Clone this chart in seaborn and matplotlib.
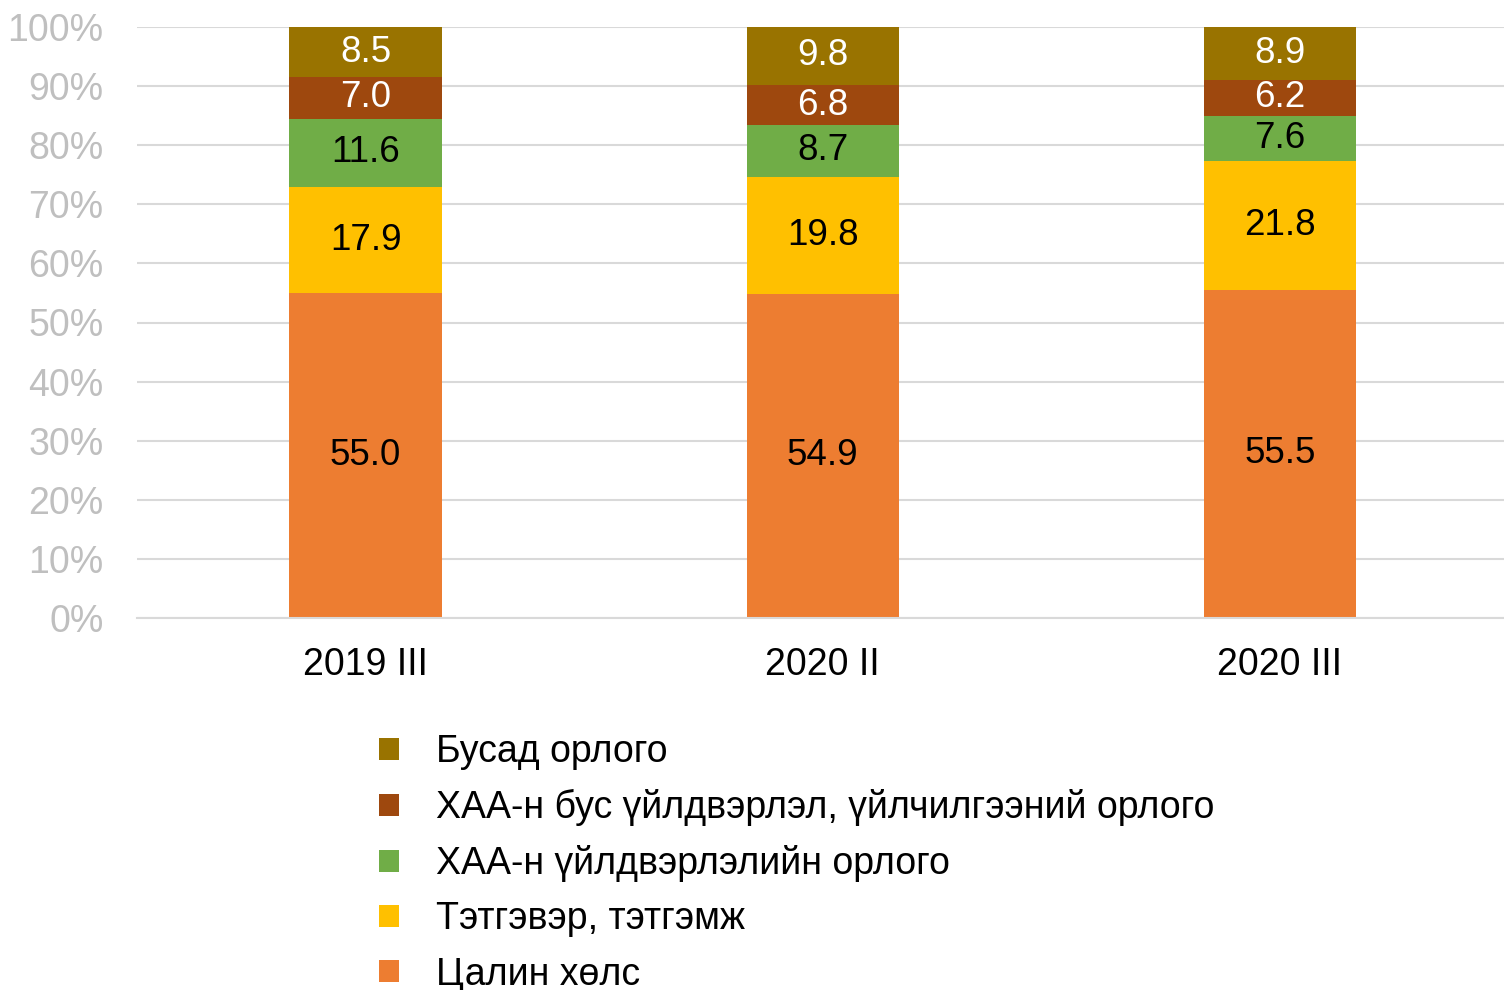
import numpy as np
import matplotlib
matplotlib.use("Agg")
import matplotlib.pyplot as plt
from matplotlib.ticker import PercentFormatter
import seaborn as sns

# data (shares of income, %)
periods = ["2019 III", "2020 II", "2020 III"]
series = [
    "Цалин хөлс",
    "Тэтгэвэр, тэтгэмж",
    "ХАА-н үйлдвэрлэлийн орлого",
    "ХАА-н бус үйлдвэрлэл, үйлчилгээний орлого",
    "Бусад орлого",
]
wages = [55.0, 54.9, 55.5]
pensions = [17.9, 19.8, 21.8]
agri = [11.6, 8.7, 7.6]
non_agri = [7.0, 6.8, 6.2]
other = [8.5, 9.8, 8.9]

colors = ["#ED7D31", "#FFC000", "#70AD47", "#9E480E", "#997300"]
label_colors = ["black", "black", "black", "white", "white"]

sns.set_style("white")
plt.rcParams["font.family"] = ["Liberation Sans", "DejaVu Sans"]

fig = plt.figure(figsize=(15.04, 9.9), dpi=100)
ax = fig.add_axes([137 / 1504, 1 - 618 / 990, 1 - 137 / 1504, (618 - 27) / 990])

bottom = np.zeros(len(periods))
for name, vals, col, lc in zip(series, [wages, pensions, agri, non_agri, other], colors, label_colors):
    vals = np.array(vals)
    sns.barplot(x=periods, y=vals / 100, bottom=bottom / 100, color=col,
                width=0.333, saturation=1, label=name, linewidth=0,
                legend=False, ax=ax)
    cont = ax.containers[-1]
    ax.bar_label(cont, labels=[f"{v:.1f}" for v in vals], label_type="center",
                 color=lc, fontsize=26.5)
    bottom = bottom + vals

ax.set_ylim(0, 1)
ax.set_xlim(-0.5, 2.49)
ax.yaxis.set_major_locator(plt.MultipleLocator(0.1))
ax.yaxis.set_major_formatter(PercentFormatter(1.0, decimals=0))
ax.grid(axis="y", color="#D9D9D9", linewidth=1.5)
ax.set_axisbelow(True)
for s in ["left", "right", "top"]:
    ax.spines[s].set_visible(False)
ax.spines["bottom"].set_color("#D9D9D9")
ax.spines["bottom"].set_linewidth(1.5)
ax.tick_params(axis="y", length=0, pad=24, labelsize=27, labelcolor="#BFBFBF")
ax.tick_params(axis="x", length=0, pad=21, labelsize=27, labelcolor="black")
ax.set_xlabel("")
ax.set_ylabel("")
if ax.get_legend() is not None:
    ax.get_legend().remove()

handles, labels = ax.get_legend_handles_labels()
fig.legend(handles[::-1], labels[::-1], loc="upper left",
           bbox_to_anchor=(379 / 1504, 1 - 734 / 990), frameon=False,
           fontsize=27, labelcolor="black", handlelength=0.53, handleheight=0.53,
           handletextpad=1.0, labelspacing=0.51, borderpad=0, borderaxespad=0)

fig.savefig("out.png", dpi=100)
